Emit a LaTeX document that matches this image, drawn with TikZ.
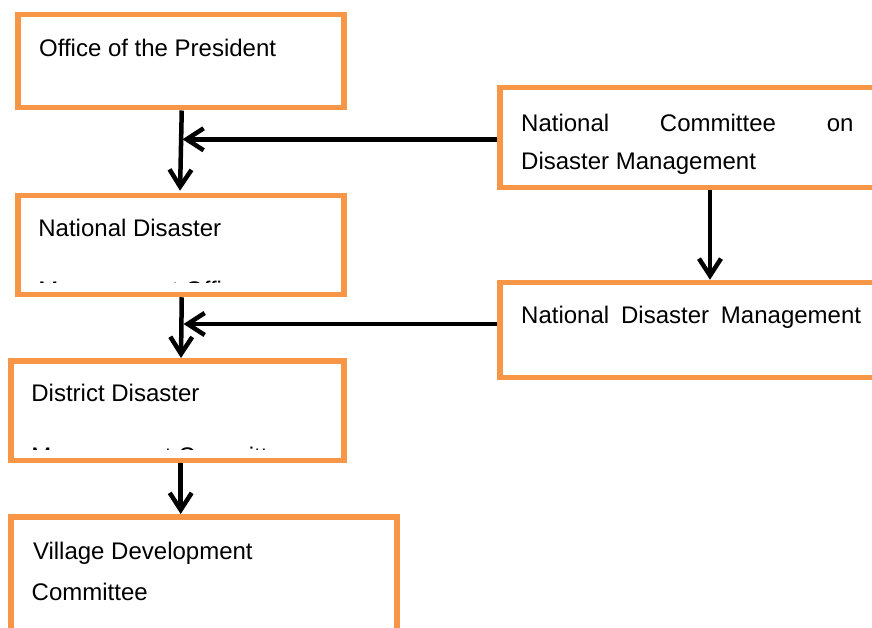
\documentclass[tikz,border=0pt]{standalone}
\usepackage{fontspec}
\setmainfont{Liberation Sans}
\usetikzlibrary{arrows.meta,calc}
\definecolor{boxorange}{HTML}{F79646}
\tikzset{
  orgbox/.style={draw=boxorange, line width=5.5pt, fill=white, rectangle,
    anchor=north west, inner sep=0pt},
  label/.style={anchor=base west, inner sep=0pt, text=black,
    font=\fontsize{24pt}{28pt}\selectfont},
  arr/.style={draw=black, line width=4.5pt,
    -{Straight Barb[length=17pt, width=22pt, line width=4.5pt]}},
}
\begin{document}
\begin{tikzpicture}[x=1pt, y=-1pt]
  \useasboundingbox (0,0) rectangle (872,628);
  \clip (0,0) rectangle (872,628);

  % boxes, placed by the outer corner of their border
  \node[orgbox, minimum width=326pt, minimum height=93pt] (office) at (15,12) {};
  \node[orgbox, minimum width=326pt, minimum height=99pt] (ndmo) at (15,192.75) {};
  \node[orgbox, minimum width=333pt, minimum height=99.5pt] (district) at (8,358) {};
  \node[orgbox, minimum width=386.3pt, minimum height=130pt] (village) at (8,514) {};
  \node[orgbox, minimum width=400pt, minimum height=100pt] (ncdm) at (497.25,84.75) {};
  \node[orgbox, minimum width=400pt, minimum height=95pt] (ndm) at (497.25,279.75) {};

  % texts
  \node[label] (t-office) at (38.9,57) {Office of the President};
  \node[label] (t-ndmo) at (38.2,236.7) {National Disaster};
  \begin{scope}
    \clip (20,197) rectangle (341,282.7);
    \node[label] (t-ndmo2) at (38.2,298.3) {Management Office};
  \end{scope}
  \node[label] (t-district) at (31.2,401.7) {District Disaster};
  \begin{scope}
    \clip (13,362) rectangle (341,449);
    \node[label] (t-district2) at (31.2,464.8) {Management Committee};
  \end{scope}
  \node[label] (t-village) at (32.8,559.3) {Village Development};
  \node[label] (t-village2) at (31.5,600) {Committee};
  \node[label] (t-ncdm) at (521,131.7) {\hbox to 332.3pt{National\hfill Committee\hfill on}};
  \node[label] (t-ncdm2) at (521,170) {Disaster Management};
  \node[label] (t-ndm) at (521,323) {\hbox to 339.9pt{National\hfill Disaster\hfill Management}};

  % junctions on the vertical connectors
  \coordinate (j1) at (182.5,139.3);
  \coordinate (j2) at (183.5,324);

  % connectors
  \draw[arr, shorten >=2pt] ([xshift=1pt]office.south) -- ([xshift=-0.75pt]ndmo.north);
  \draw[arr] ([yshift=-1.8pt]ncdm.west) -- (j1);
  \draw[arr] ([xshift=1pt]ndmo.south) -- ([xshift=3.75pt]district.north);
  \draw[arr] ([yshift=6pt]ndm.west) -- (j2);
  \draw[arr] ([xshift=3.45pt]district.south) -- ([xshift=-23.2pt]village.north);
  \draw[arr] (ncdm.south -| 710,0) -- (ndm.north -| 710,0);
\end{tikzpicture}
\end{document}
